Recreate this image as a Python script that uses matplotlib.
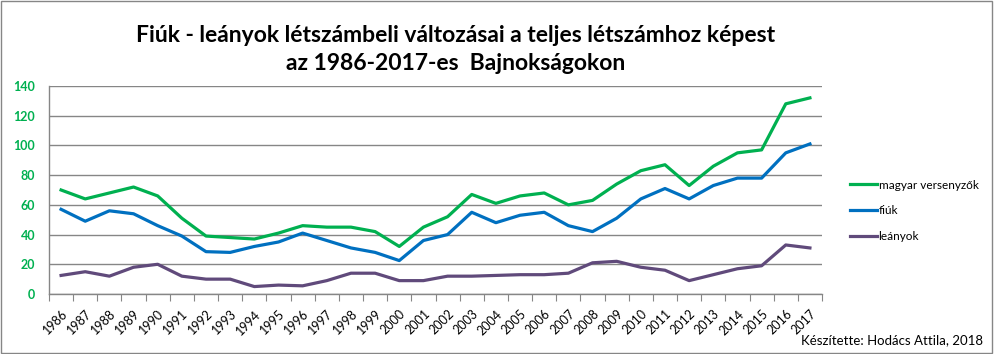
import matplotlib
matplotlib.use("Agg")
import matplotlib.pyplot as plt
from matplotlib.patches import Rectangle

years = [str(y) for y in range(1986, 2018)]
magyar = [70, 64, 68, 72, 66, 51, 39, 38, 37, 41, 46, 45, 45, 42, 32,
          45, 52, 67, 61, 66, 68, 60, 63, 74, 83, 87, 73, 86, 95, 97, 128, 132]
fiuk = [57, 49, 56, 54, 46, 39, 28.5, 28, 32, 35, 41, 36, 31, 28, 22.5,
        36, 40, 55, 48, 53, 55, 46, 42, 51, 64, 71, 64, 73, 78, 78, 95, 101]
leanyok = [12.5, 15, 12, 18, 20, 12, 10, 10, 5, 6, 5.5, 9, 14, 14, 9,
           9, 12, 12, 12.5, 13, 13, 14, 21, 22, 18, 16, 9, 13, 17, 19, 33, 31]
series_names = ["magyar versenyzők", "fiúk", "leányok"]
colors = ["#00B050", "#0070C0", "#604A7B"]
yticks = [0, 20, 40, 60, 80, 100, 120, 140]

plt.rcParams['font.family'] = ['Lato', 'DejaVu Sans']
fig = plt.figure(figsize=(9.94, 3.54), dpi=100)
ax = fig.add_axes([49/994, 1-294/354, (822-49)/994, (294-86)/354])

x = list(range(len(years)))
for vals, name, c in zip([magyar, fiuk, leanyok], series_names, colors):
    ax.plot(x, vals, color=c, lw=2.3, label=name, solid_joinstyle='round')

ax.set_xlim(-0.5, len(years) - 0.5)
ax.set_ylim(0, 140)
ax.set_yticks(yticks)
ax.set_yticklabels([str(v) for v in yticks], color="#00B050", fontweight='bold', fontsize=9)
ax.tick_params(axis='y', length=0, pad=10)
ax.grid(axis='y', color="#868686", lw=1)
ax.set_axisbelow(True)
for s in ['top', 'right']:
    ax.spines[s].set_visible(False)
for s in ['left', 'bottom']:
    ax.spines[s].set_color("#868686")
    ax.spines[s].set_linewidth(1)

ax.set_xticks([i - 0.5 for i in range(len(years) + 1)], minor=False)
ax.set_xticklabels([])
ax.tick_params(axis='x', which='major', direction='out', length=5, color="#868686")
ax.set_xticks(x, minor=True)
ax.set_xticklabels(years, minor=True, rotation=45, ha='right', va='top',
                   rotation_mode='anchor', fontsize=9)
ax.tick_params(axis='x', which='minor', length=0, pad=10)

leg = ax.legend(loc='center left', bbox_to_anchor=(1.022, 0.40), frameon=False,
                fontsize=8.5, handlelength=2.3, handletextpad=0.15, labelspacing=1.25)

fig.text(0.458, 1-35/354, "Fiúk - leányok létszámbeli változásai a teljes létszámhoz képest",
         ha='center', va='center', fontsize=16.5, fontweight='bold')
fig.text(0.458, 1-63/354, "az 1986-2017-es  Bajnokságokon",
         ha='center', va='center', fontsize=16.5, fontweight='bold')
fig.text(0.989, 0.04, "Készítette: Hodács Attila, 2018", ha='right', va='center', fontsize=9.5)

fig.patches.append(Rectangle((0.001, 0.002), 0.997, 0.995, transform=fig.transFigure,
                             fill=False, edgecolor="#868686", lw=1))
fig.savefig("out.png", dpi=100)
